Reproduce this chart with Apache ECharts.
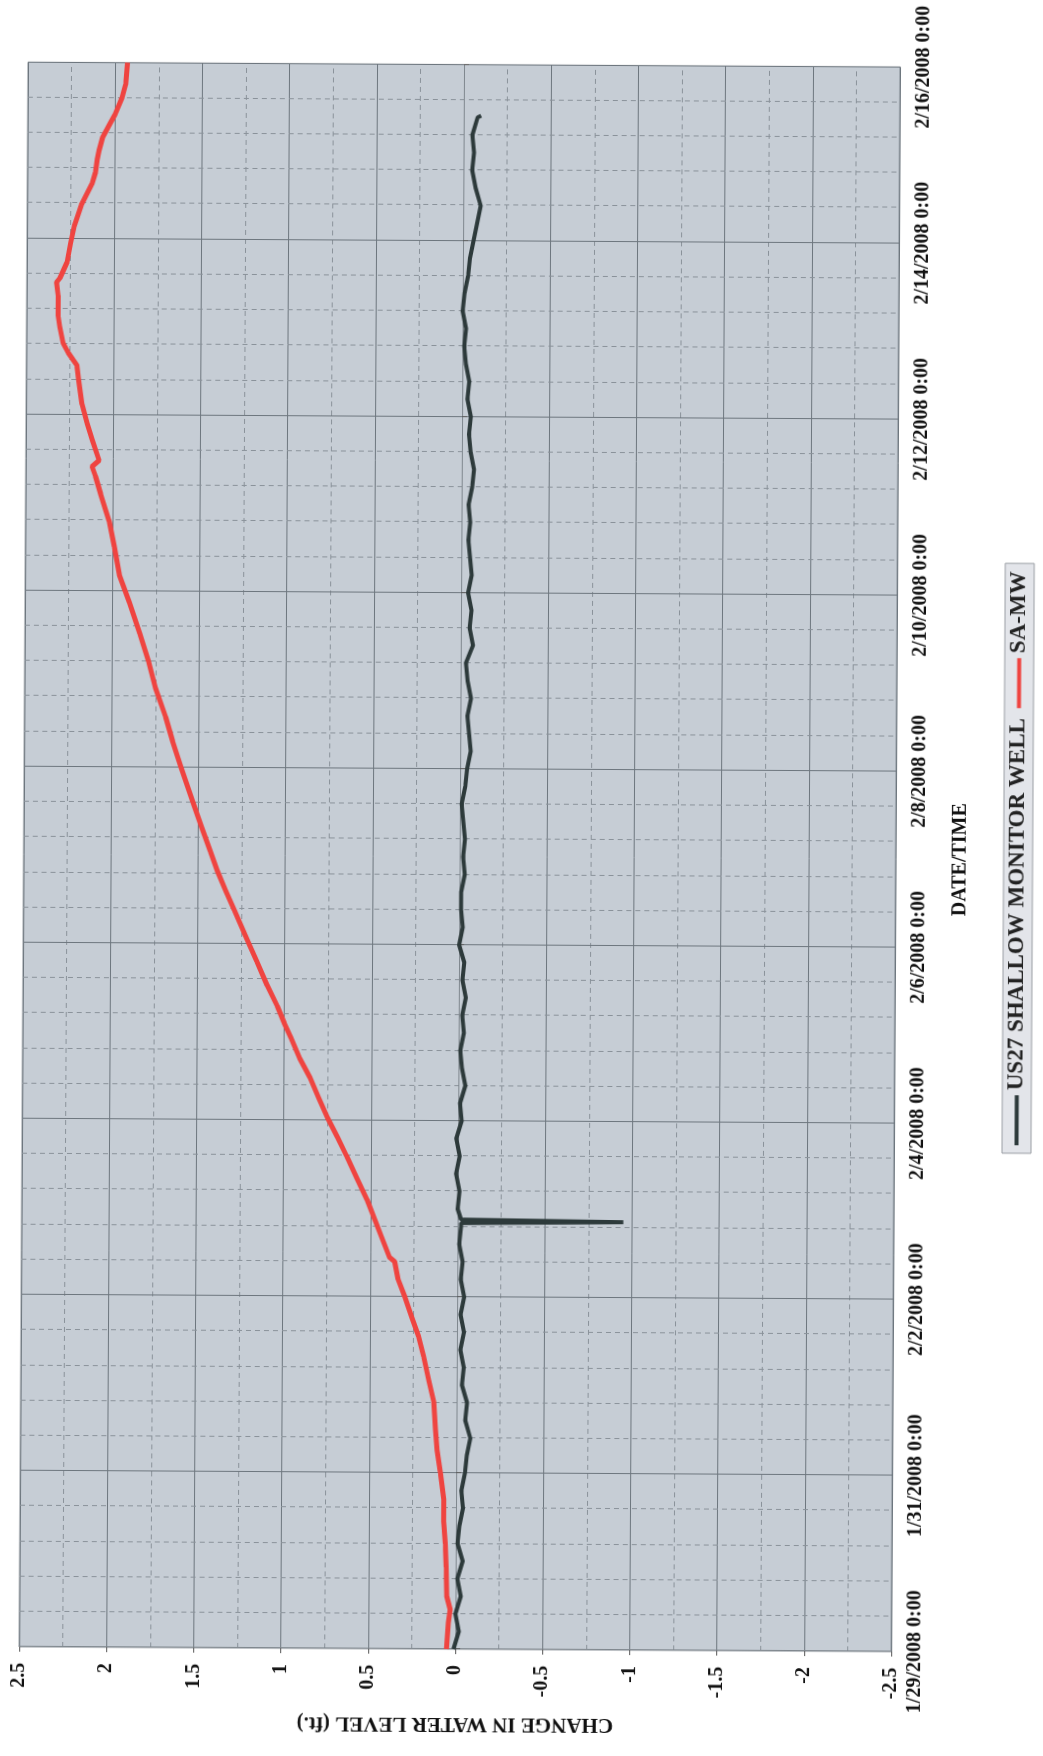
<!DOCTYPE html>
<html>
<head>
<meta charset="utf-8">
<title>Change in water level</title>
<script src="https://cdn.jsdelivr.net/npm/echarts@6/dist/echarts.min.js"></script>
<style>
  html, body { margin: 0; padding: 0; background: #fff; }
  body { width: 1043px; height: 1756px; overflow: hidden; position: relative; }
  /* the scanned sheet is turned on its side, and a touch skewed */
  #chart {
    position: absolute;
    width: 1756px; height: 1043px;
    left: -356.5px; top: 356.5px;
    transform: rotate(-89.68deg);
    transform-origin: 50% 50%;
  }
</style>
</head>
<body>
<div id="chart"></div>
<script>
  // days are counted from 1/29/2008 0:00
  const startDate = Date.UTC(2008, 0, 29);

  // SA-MW (red)
  const saDays = [0, 0.3, 0.45, 0.6, 0.93, 1.2, 1.45, 1.7, 2.0, 2.26,
    2.5, 2.8, 3.05, 3.32, 3.55, 3.77, 4.0, 4.2, 4.4, 4.45,
    4.7, 5.1, 5.35, 5.6, 5.8, 6.03, 6.25, 6.48, 6.7, 6.93,
    7.1, 7.29, 7.53, 7.8, 8.02, 8.2, 8.38, 8.6, 8.83, 9.05,
    9.32, 9.6, 10.0, 10.3, 10.57, 10.9, 11.2, 11.51, 11.86, 12.18,
    12.5, 12.79, 13.1, 13.3, 13.41, 13.48, 13.71, 13.9, 14.12, 14.4,
    14.56, 14.7, 14.81, 15.0, 15.13, 15.35, 15.5, 15.55, 15.73, 15.95,
    16.14, 16.38, 16.5, 16.62, 16.75, 16.9, 17.0, 17.15, 17.3, 17.41,
    17.6, 17.75, 18.0];
  const saLevel = [0.05, 0.04, 0.03, 0.05, 0.055, 0.06, 0.07, 0.07, 0.09, 0.11,
    0.12, 0.13, 0.16, 0.19, 0.22, 0.26, 0.30, 0.34, 0.36, 0.39,
    0.44, 0.52, 0.58, 0.64, 0.69, 0.75, 0.80, 0.85, 0.91, 0.96,
    1.00, 1.04, 1.10, 1.16, 1.21, 1.25, 1.29, 1.34, 1.39, 1.43,
    1.48, 1.53, 1.60, 1.65, 1.69, 1.75, 1.79, 1.84, 1.90, 1.96,
    1.99, 2.02, 2.07, 2.10, 2.12, 2.08, 2.12, 2.15, 2.18, 2.20,
    2.21, 2.26, 2.29, 2.31, 2.32, 2.32, 2.33, 2.31, 2.27, 2.25,
    2.23, 2.19, 2.16, 2.13, 2.11, 2.10, 2.09, 2.07, 2.03, 2.00,
    1.96, 1.94, 1.93];

  // US27 SHALLOW MONITOR WELL (dark)
  const usDays = [0, 0.2, 0.4, 0.6, 0.8, 1.0, 1.2, 1.4, 1.6, 1.8,
    2.0, 2.2, 2.4, 2.6, 2.8, 3.0, 3.2, 3.4, 3.6, 3.8,
    4.0, 4.2, 4.4, 4.6, 4.8, 4.84, 4.86, 4.88,
    5.0, 5.2, 5.4, 5.6, 5.8, 6.0, 6.2, 6.4, 6.6, 6.8,
    7.0, 7.2, 7.4, 7.6, 7.8, 8.0, 8.2, 8.4, 8.6, 8.8,
    9.0, 9.2, 9.4, 9.6, 9.8, 10.0, 10.2, 10.4, 10.6, 10.8,
    11.0, 11.2, 11.4, 11.6, 11.8, 12.0, 12.2, 12.4, 12.6, 12.8,
    13.0, 13.2, 13.4, 13.6, 13.8, 14.0, 14.2, 14.4, 14.6, 14.8,
    15.0, 15.2, 15.4, 15.6, 15.8, 16.0, 16.2, 16.4, 16.6, 16.8,
    17.0, 17.2, 17.4, 17.42];
  const usLevel = [0.01, -0.02, 0.00, -0.03, -0.01, -0.04, -0.01, -0.02, -0.04, -0.03,
    -0.05, -0.06, -0.08, -0.05, -0.06, -0.03, -0.04, -0.02, -0.04, -0.02,
    -0.04, -0.02, -0.03, -0.01, -0.02, -0.02, -0.95, -0.02,
    0.00, -0.01, 0.01, -0.01, 0.01, -0.02, -0.01, -0.04, -0.02, -0.01,
    -0.03, -0.02, -0.04, -0.02, -0.03, 0.00, -0.02, -0.01, -0.01, -0.03,
    -0.02, -0.03, -0.02, -0.01, -0.03, -0.04, -0.06, -0.05, -0.04, -0.06,
    -0.04, -0.03, -0.07, -0.05, -0.06, -0.04, -0.06, -0.05, -0.04, -0.05,
    -0.04, -0.06, -0.07, -0.05, -0.04, -0.05, -0.03, -0.04, -0.02, -0.01,
    -0.02, 0.00, -0.01, -0.03, -0.04, -0.06, -0.08, -0.10, -0.07, -0.05,
    -0.06, -0.05, -0.08, -0.10];

  const serif = "'Liberation Serif', 'Times New Roman', serif";

  function dateLabel(d) {
    const t = new Date(startDate + d * 86400000);
    return (t.getUTCMonth() + 1) + '/' + t.getUTCDate() + '/' + t.getUTCFullYear() + ' 0:00';
  }

  let myChart = echarts.init(document.getElementById('chart'));
  let option = {
    animation: false,
    backgroundColor: '#ffffff',
    grid: {
      left: 107, right: 64, top: 23, bottom: 148,
      show: true,
      backgroundColor: '#c6cdd5',
      borderColor: '#7f878e',
      borderWidth: 1
    },
    legend: {
      left: 606, top: 1003,
      padding: [3, 8],
      itemWidth: 50, itemHeight: 4, itemGap: 10,
      backgroundColor: '#e3e5ea',
      borderColor: '#9a9ea4',
      borderWidth: 1,
      textStyle: { fontFamily: serif, fontWeight: 'bold', fontSize: 23, color: '#222' },
      data: [
        { name: 'US27 SHALLOW MONITOR WELL', icon: 'rect' },
        { name: 'SA-MW', icon: 'rect' }
      ]
    },
    xAxis: {
      type: 'value',
      min: 0, max: 18, interval: 2,
      name: 'DATE/TIME',
      nameLocation: 'middle',
      nameGap: 55,
      nameTextStyle: { fontFamily: serif, fontWeight: 'bold', fontSize: 20, color: '#111' },
      axisLine: { show: true, lineStyle: { color: '#7f878e' } },
      axisTick: { show: true, length: 5, lineStyle: { color: '#555' } },
      axisLabel: {
        margin: 14,
        showMinLabel: true, showMaxLabel: true,
        fontFamily: serif, fontWeight: 'bold', fontSize: 20, color: '#111',
        formatter: dateLabel
      },
      splitLine: { show: true, lineStyle: { color: '#6d767e', width: 1 } },
      minorTick: { show: false, splitNumber: 5 },
      minorSplitLine: { show: true, lineStyle: { color: '#8a929a', width: 1, type: [5, 4] } }
    },
    yAxis: {
      type: 'value',
      min: -2.5, max: 2.5, interval: 0.5,
      name: 'CHANGE IN WATER LEVEL (ft.)',
      nameLocation: 'middle',
      nameGap: 64,
      nameTextStyle: { fontFamily: serif, fontWeight: 'bold', fontSize: 21, color: '#111' },
      axisLine: { show: true, lineStyle: { color: '#7f878e' } },
      axisTick: { show: true, length: 5, lineStyle: { color: '#555' } },
      axisLabel: {
        margin: 16,
        fontFamily: serif, fontWeight: 'bold', fontSize: 20, color: '#111'
      },
      splitLine: { show: true, lineStyle: { color: '#6d767e', width: 1 } },
      minorTick: { show: false, splitNumber: 2 },
      minorSplitLine: { show: true, lineStyle: { color: '#8a929a', width: 1, type: [5, 4] } }
    },
    series: [
      {
        name: 'US27 SHALLOW MONITOR WELL',
        type: 'line',
        symbol: 'none',
        color: '#2d3a3b',
        lineStyle: { width: 4, color: '#2d3a3b' },
        data: usDays.map((d, i) => [d, usLevel[i]])
      },
      {
        name: 'SA-MW',
        type: 'line',
        symbol: 'none',
        color: '#ef4440',
        lineStyle: { width: 5, color: '#ef4440' },
        data: saDays.map((d, i) => [d, saLevel[i]])
      }
    ]
  };
  myChart.setOption(option);
</script>
</body>
</html>
